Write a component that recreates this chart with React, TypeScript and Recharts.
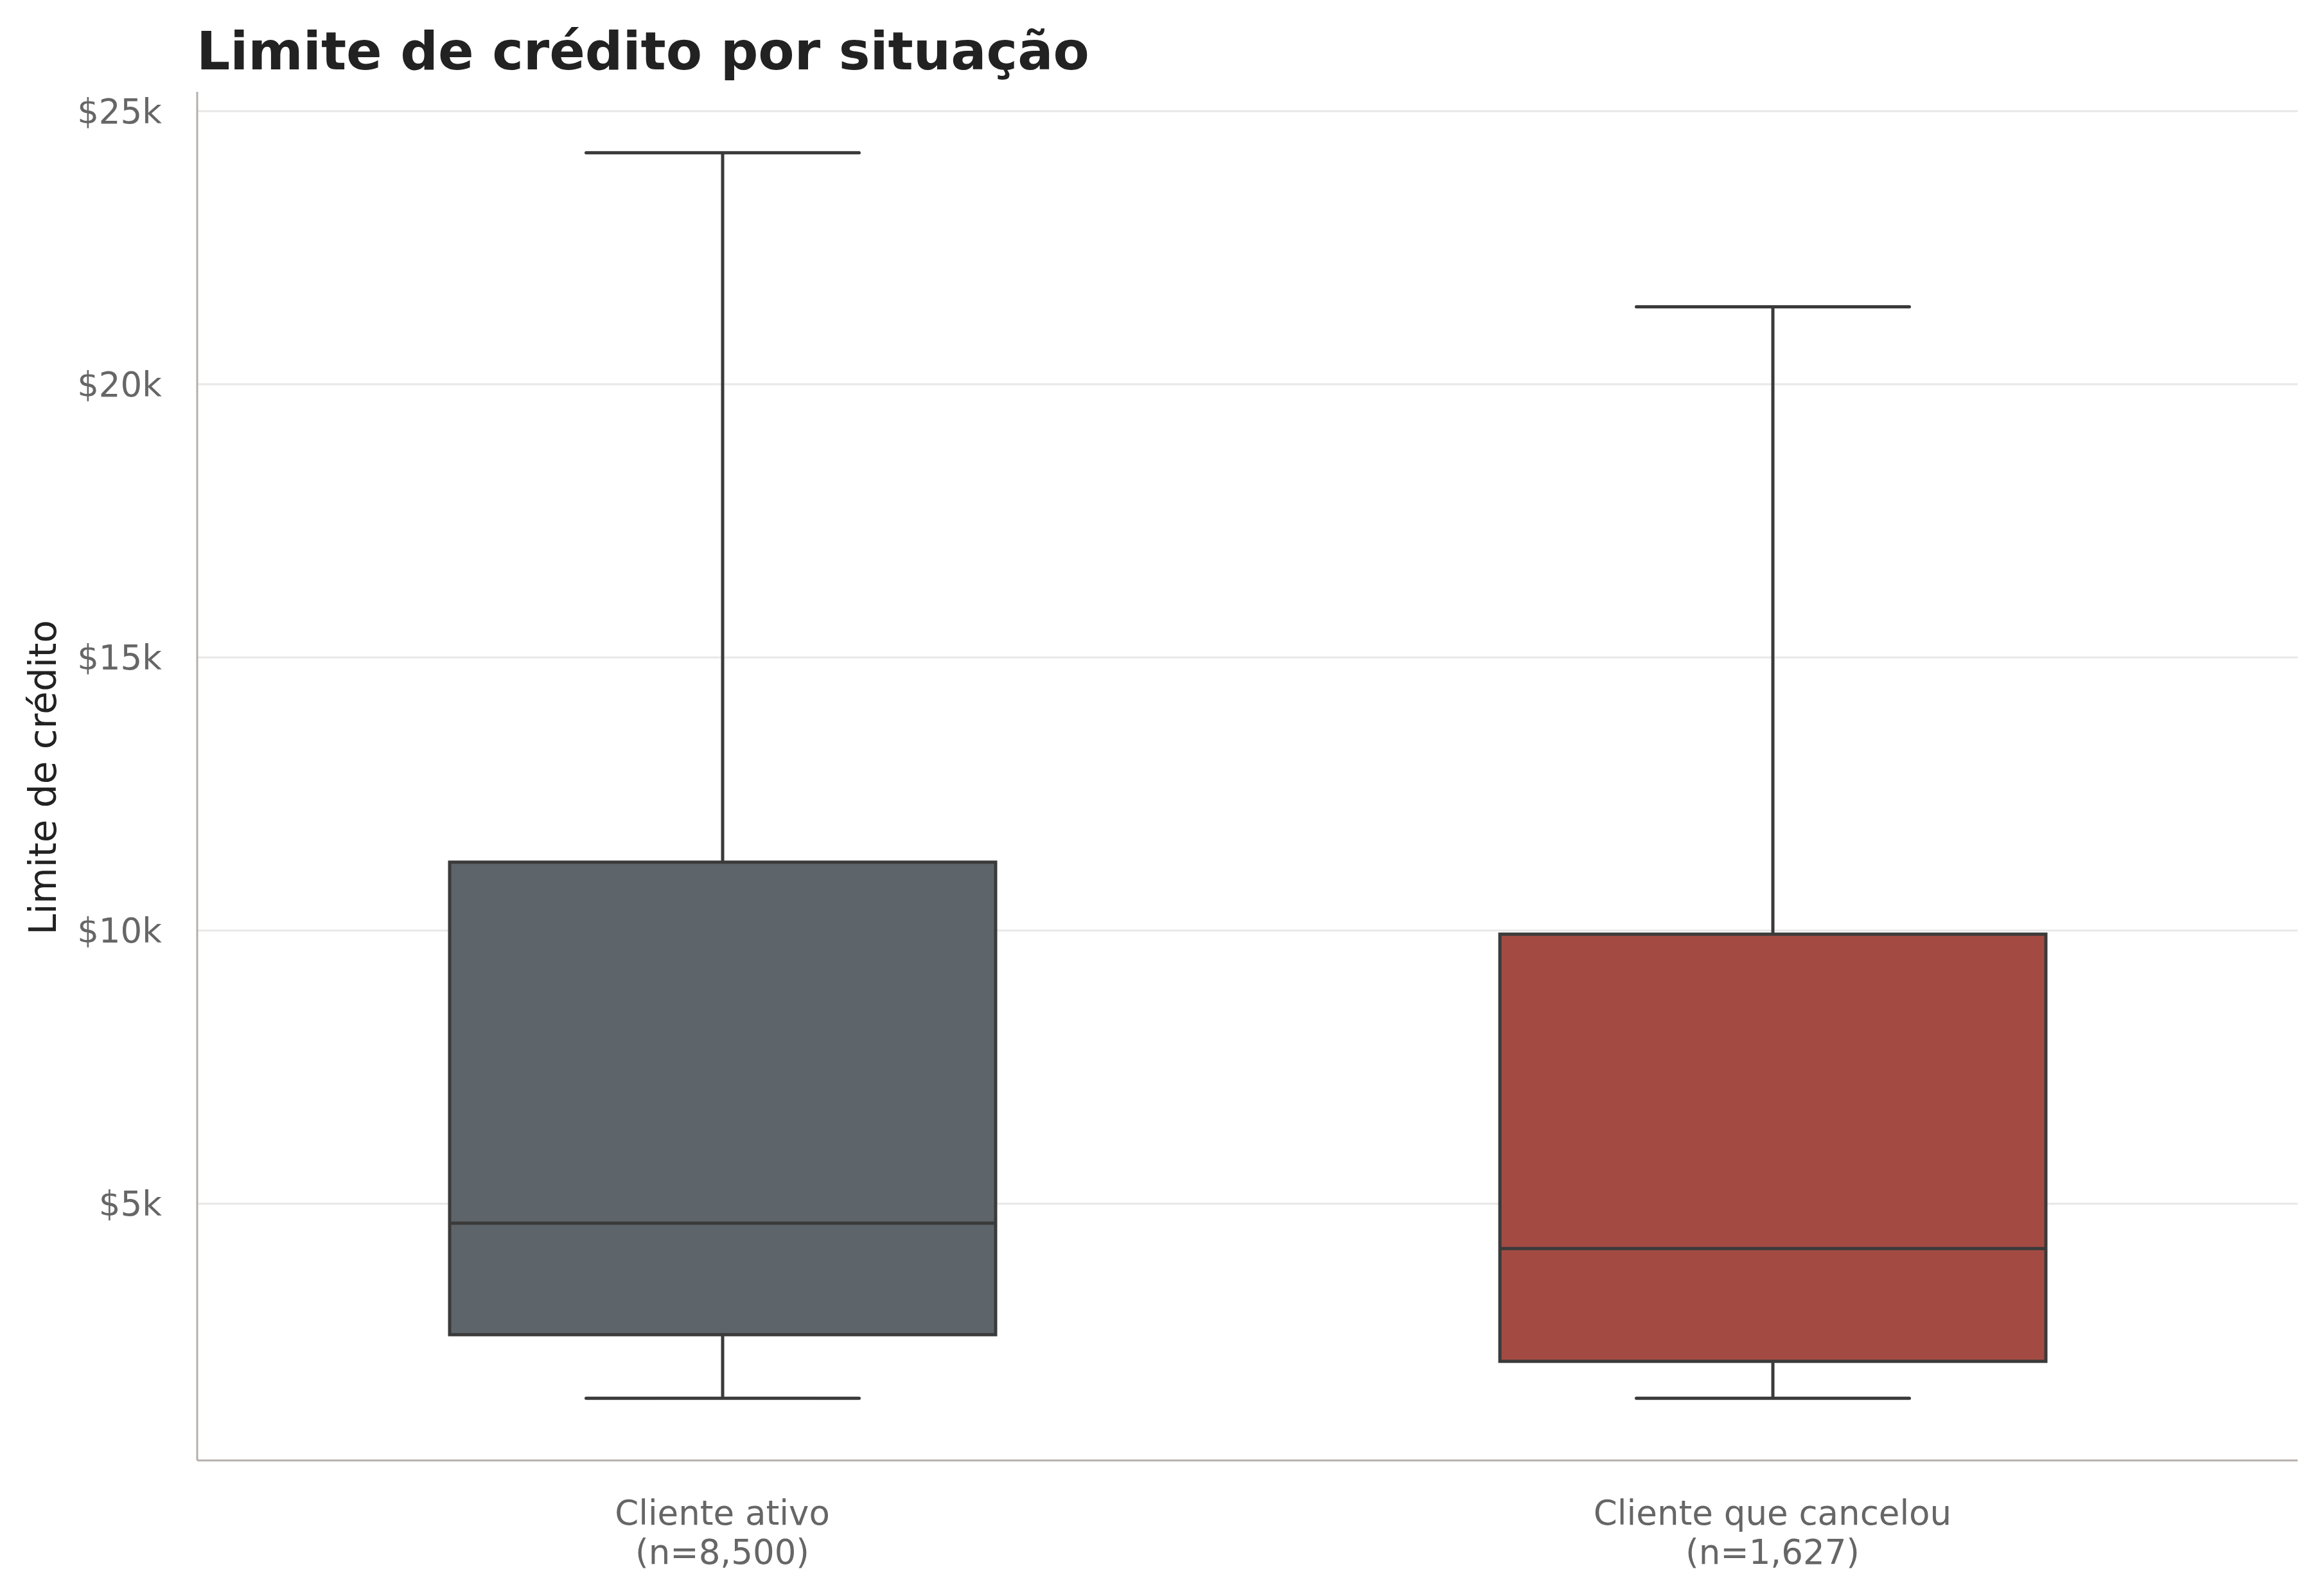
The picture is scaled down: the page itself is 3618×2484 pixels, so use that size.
import { ComposedChart, Bar, XAxis, YAxis, CartesianGrid } from "recharts";

const CATEGORIES = ["Cliente ativo", "Cliente que cancelou"];
const COUNTS = ["(n=8,500)", "(n=1,627)"];
const WHISKER_LOW = [1438, 1438];
const Q1 = [2602, 2114];
const MEDIAN = [4644, 4178];
const Q3 = [11252, 9934];
const WHISKER_HIGH = [24240, 21420];
const Y_TICKS = [5000, 10000, 15000, 20000, 25000];
const BOX_COLORS = ["#5d646a", "#a34b43"];

const W = 3618;
const H = 2484;
const FONT = "DejaVu Sans, sans-serif";
const EDGE = "#3a3a3a";
const SPINE = "#b5b0ad";

const data = CATEGORIES.map((name, i) => ({
  name,
  n: COUNTS[i],
  range: [WHISKER_LOW[i], WHISKER_HIGH[i]],
  q1: Q1[i],
  median: MEDIAN[i],
  q3: Q3[i],
  fill: BOX_COLORS[i],
}));

// the bar spans the whiskers; quartiles are placed on the same linear scale
function BoxShape(props: any) {
  const { x, y, width, height, payload } = props;
  if (!payload) return null;
  const [lo, hi] = payload.range;
  const top = Math.min(y, y + height);
  const h = Math.abs(height);
  const toY = (v: number) => top + ((hi - v) / (hi - lo)) * h;
  const cx = x + width / 2;
  const capW = width / 4;
  const yHi = toY(hi);
  const yLo = toY(lo);
  const yQ3 = toY(payload.q3);
  const yQ1 = toY(payload.q1);
  const yMed = toY(payload.median);
  return (
    <g>
      <line x1={cx} x2={cx} y1={yHi} y2={yQ3} stroke={EDGE} strokeWidth={5} />
      <line x1={cx} x2={cx} y1={yQ1} y2={yLo} stroke={EDGE} strokeWidth={5} />
      <line x1={cx - capW} x2={cx + capW} y1={yHi} y2={yHi} stroke={EDGE} strokeWidth={5} strokeLinecap="round" />
      <line x1={cx - capW} x2={cx + capW} y1={yLo} y2={yLo} stroke={EDGE} strokeWidth={5} strokeLinecap="round" />
      <rect x={x} y={yQ3} width={width} height={yQ1 - yQ3} fill={payload.fill} stroke={EDGE} strokeWidth={5} />
      <line x1={x} x2={x + width} y1={yMed} y2={yMed} stroke={EDGE} strokeWidth={5} />
    </g>
  );
}

function CategoryTick(props: any) {
  const { x, y, payload } = props;
  const i = CATEGORIES.indexOf(payload.value);
  return (
    <text x={x} y={y} textAnchor="middle" fill="#666666" fontSize={53} fontFamily={FONT}>
      <tspan x={x} dy={100}>{payload.value}</tspan>
      <tspan x={x} dy={61}>{COUNTS[i]}</tspan>
    </text>
  );
}

export default function App() {
  return (
    <div style={{ position: "absolute", left: 0, top: 0, width: W, height: H, background: "#fff" }}>
      <ComposedChart width={W} height={H} data={data} margin={{ top: 143, right: 41, bottom: 0, left: 0 }}>
        <CartesianGrid vertical={false} horizontalValues={Y_TICKS} stroke="#e8e8e8" strokeWidth={3} />
        <XAxis
          dataKey="name"
          height={211}
          axisLine={{ stroke: SPINE, strokeWidth: 3 }}
          tickLine={false}
          tickSize={0}
          tickMargin={0}
          tick={<CategoryTick />}
          interval={0}
        />
        <YAxis
          type="number"
          width={307}
          domain={[300, 25353]}
          allowDataOverflow
          ticks={Y_TICKS}
          tickFormatter={(v: number) => `$${v / 1000}k`}
          axisLine={{ stroke: SPINE, strokeWidth: 3 }}
          tickLine={false}
          tickSize={0}
          tickMargin={55}
          tick={{ fill: "#666666", fontSize: 53, fontFamily: FONT }}
        />
        <Bar dataKey="range" barSize={850} shape={<BoxShape />} isAnimationActive={false} />
      </ComposedChart>
      <svg width={W} height={H} style={{ position: "absolute", left: 0, top: 0, pointerEvents: "none" }}>
        <text x={306} y={108} fontSize={82} fontWeight="bold" fontFamily={FONT} fill="#222222">
          Limite de crédito por situação
        </text>
        <text
          x={87}
          y={1210}
          fontSize={58}
          fontFamily={FONT}
          fill="#222222"
          textAnchor="middle"
          transform="rotate(-90, 87, 1210)"
        >
          Limite de crédito
        </text>
      </svg>
    </div>
  );
}
